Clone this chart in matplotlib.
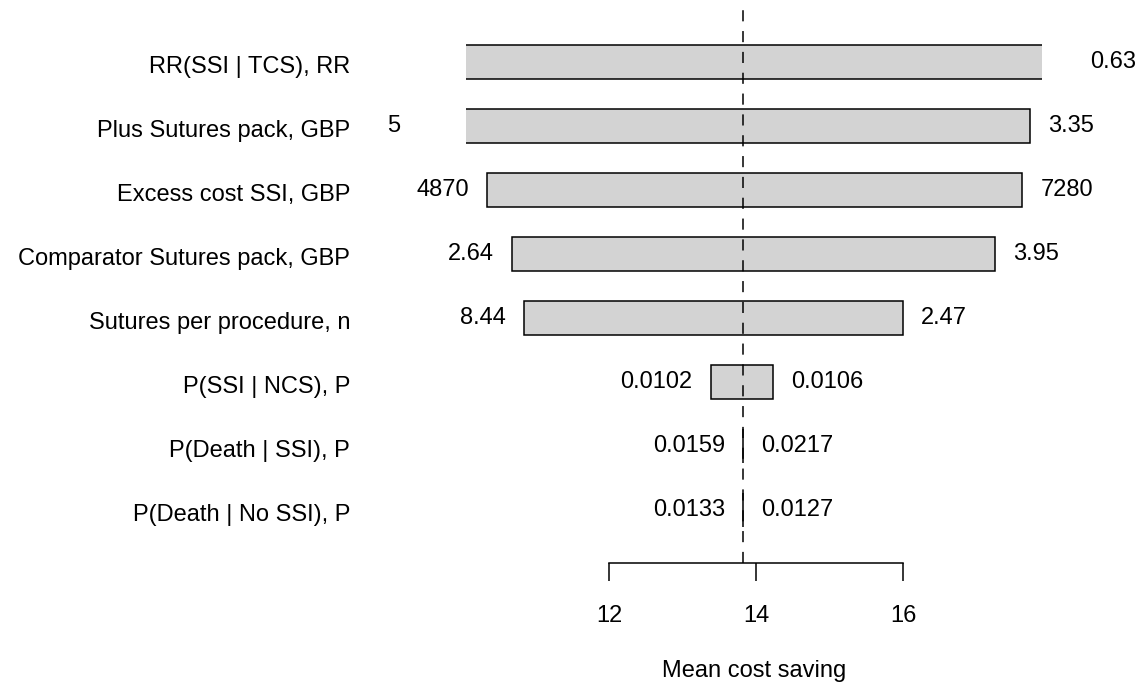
import matplotlib
matplotlib.use("Agg")
import matplotlib.pyplot as plt
from matplotlib.transforms import ScaledTranslation

plt.rcParams['font.family'] = ['Liberation Sans', 'DejaVu Sans']
plt.rcParams['lines.scale_dashes'] = False

# ---- data (top row first) ----
params = ["RR(SSI | TCS), RR", "Plus Sutures pack, GBP", "Excess cost SSI, GBP",
          "Comparator Sutures pack, GBP", "Sutures per procedure, n",
          "P(SSI | NCS), P", "P(Death | SSI), P", "P(Death | No SSI), P"]
low_result = [9.0, 9.40, 10.34, 10.68, 10.84, 13.38, 13.817, 13.817]
high_result = [18.30, 17.72, 17.62, 17.25, 16.00, 14.23, 13.820, 13.820]
low_labels = ["", "5", "4870", "2.64", "8.44", "0.0102", "0.0159", "0.0133"]
high_labels = ["0.63", "3.35", "7280", "3.95", "2.47", "0.0106", "0.0217", "0.0127"]
base_value = 13.82
xticks = [12, 14, 16]
xlabel = "Mean cost saving"

W, H = 1135, 684
fig = plt.figure(figsize=(W / 100, H / 100), dpi=100)
ax_left, ax_right = 466, 1042
ax_bot, ax_top = 563.3, 0
ax = fig.add_axes([ax_left / W, (H - ax_bot) / H, (ax_right - ax_left) / W, (ax_bot - ax_top) / H])

n = len(params)
ypos = list(range(n, 0, -1))
ax.set_xlim(10.05, 17.887)
ax.set_ylim(0.167, n + 62 / 64)

for y, lo, hi, ll, hl in zip(ypos, low_result, high_result, low_labels, high_labels):
    ax.barh(y, hi - lo, left=lo, height=0.53, color="#D3D3D3",
            edgecolor="black", linewidth=1.1, zorder=2)
    ax.annotate(ll, (lo, y), xytext=(-13, 0), textcoords="offset points",
                ha="right", va="center", fontsize=17, annotation_clip=False)
    ax.annotate(hl, (hi, y), xytext=(13, 0), textcoords="offset points",
                ha="left", va="center", fontsize=17, annotation_clip=False)

ax.plot([base_value, base_value], [0.167, n + 52 / 64], color="black",
        linewidth=1.1, dashes=(8, 7), zorder=3, clip_on=False)

for s in ["top", "right", "left"]:
    ax.spines[s].set_visible(False)
ax.spines["bottom"].set_bounds(12, 16)
ax.spines["bottom"].set_linewidth(1.1)
ax.set_xticks(xticks)
ax.set_xticklabels([str(t) for t in xticks])
ax.tick_params(axis="x", length=13, width=1.1, pad=17, labelsize=17)
ax.set_yticks(ypos)
ax.set_yticklabels(params)
ax.tick_params(axis="y", length=0, pad=83.5, labelsize=17)
shift = ScaledTranslation(0, -3 / 100, fig.dpi_scale_trans)
for lab in ax.get_yticklabels():
    lab.set_transform(lab.get_transform() + shift)
ax.set_xlabel(xlabel, fontsize=17, labelpad=24)
ax.patch.set_visible(False)

fig.savefig("out.png", dpi=100)
